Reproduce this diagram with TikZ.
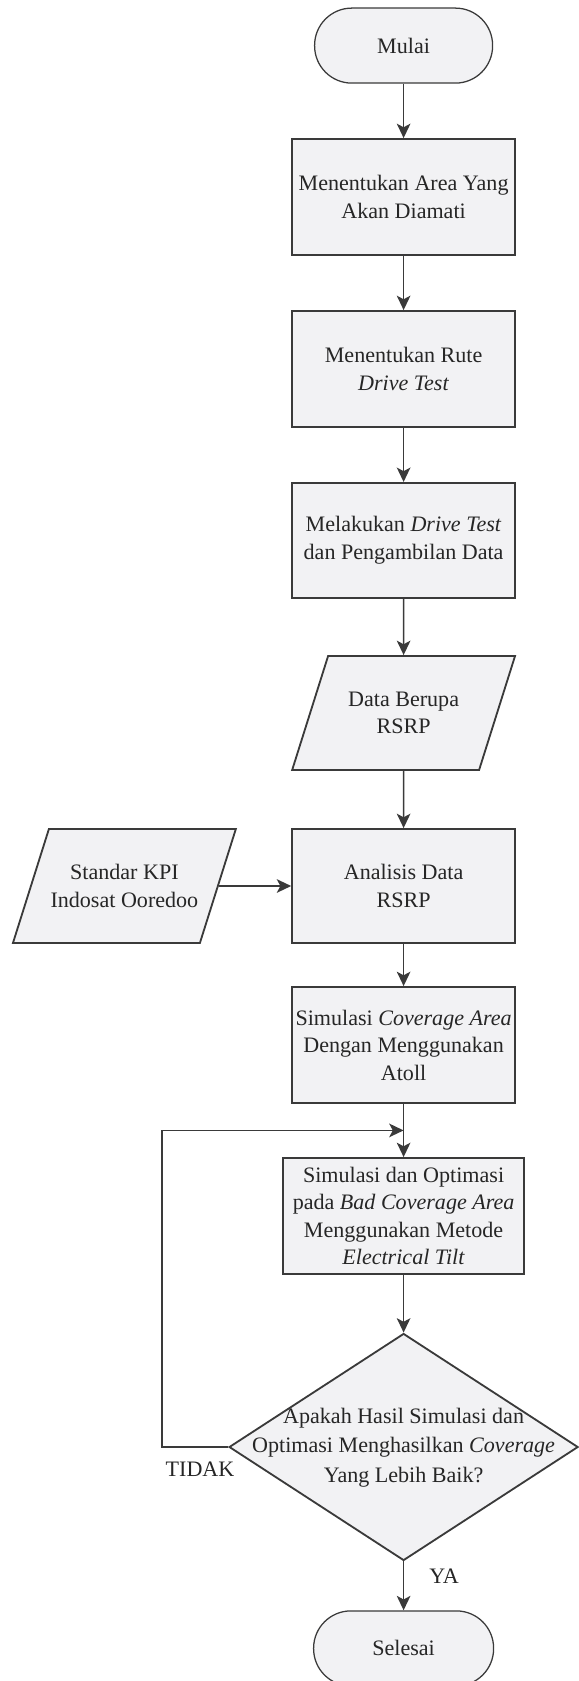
\documentclass[tikz,border=0pt]{standalone}
\usepackage{fontspec}
\setmainfont{Liberation Serif}
\usetikzlibrary{arrows.meta, positioning, shapes.geometric}
\definecolor{garis}{HTML}{3A3A3A}
\definecolor{isian}{HTML}{F2F2F4}
\definecolor{tulisan}{HTML}{262626}
% isi jajar genjang: tinggi tetap, lebar badan tetap
\newcommand{\isidata}[1]{\parbox[c][2.85cm][c]{3.775cm}{\centering #1}}

\begin{document}
\begin{tikzpicture}[
    font=\fontsize{15.7}{19.6}\selectfont, text=tulisan,
    panah/.style={draw=garis, line width=1.2pt, -{Stealth[length=3.6mm,width=3.4mm,inset=0.9mm]}},
    proses/.style={rectangle, draw=garis, fill=isian, line width=1.3pt,
      minimum width=5.575cm, minimum height=2.9cm, align=center, inner sep=1pt},
    terminal/.style={rectangle, rounded corners=0.93cm, draw=garis, fill=isian,
      line width=0.9pt, minimum width=4.45cm, minimum height=1.875cm},
    dataio/.style={trapezium, trapezium left angle=72.5, trapezium right angle=107.5,
      draw=garis, fill=isian, line width=1.3pt, inner sep=0pt},
    keputusan/.style={diamond, draw=garis, fill=isian, line width=1.3pt,
      minimum width=8.725cm, minimum height=5.675cm, inner sep=0pt}
  ]
    % ukuran gambar
    \useasboundingbox (0,0) rectangle (14.475,-42.025);

    % langkah utama
    \node[terminal] (mulai) at (10.09,-1.14) {Mulai};
    \node[proses] (area) at (10.09,-4.925) {Menentukan Area Yang\\Akan Diamati};
    \node[proses] (rute) at (10.09,-9.225) {Menentukan Rute\\\textit{Drive Test}};
    \node[proses, minimum height=2.875cm] (drivetest) at (10.09,-13.51)
      {Melakukan \textit{Drive Test}\\dan Pengambilan Data};
    \node[dataio] (rsrp) at (10.09,-17.825) {\isidata{Data Berupa\\RSRP}};
    \node[proses, minimum height=2.85cm] (analisis) at (10.09,-22.15) {Analisis Data\\RSRP};
    \node[dataio] (kpi) at (3.11,-22.15) {\isidata{Standar KPI\\Indosat Ooredoo}};
    \node[proses] (atoll) at (10.09,-26.125)
      {Simulasi \textit{Coverage Area}\\Dengan Menggunakan\\Atoll};
    \node[proses, minimum width=6.025cm] (optimasi) at (10.09,-30.4)
      {Simulasi dan Optimasi\\pada \textit{Bad Coverage Area}\\Menggunakan Metode\\\textit{Electrical Tilt}};
    \node[keputusan] (cek) at (10.09,-36.175)
      {\makebox[0pt]{\def\arraystretch{1.08}\begin{tabular}{@{}c@{}}Apakah Hasil Simulasi dan\\
        Optimasi Menghasilkan \textit{Coverage}\\Yang Lebih Baik?\end{tabular}}};
    \node[terminal, minimum width=4.5cm] (selesai) at (10.09,-41.21) {Selesai};

    % label cabang
    \node (tidak) at (5.0,-36.725) {TIDAK};
    \node (ya) at (11.1,-39.4) {YA};

    % titik bantu untuk putaran
    \coordinate (putar) at (4.05,-28.26);
    \coordinate (gabung) at (10.09,-28.26);

    % panah
    \draw[panah] (mulai) -- (area);
    \draw[panah] (area) -- (rute);
    \draw[panah] (rute) -- (drivetest);
    \draw[panah] (drivetest) -- (rsrp);
    \draw[panah] (rsrp) -- (analisis);
    \draw[panah] (kpi.east) -- (analisis.west);
    \draw[panah] (analisis) -- (atoll);
    \draw[panah] (atoll) -- (optimasi);
    \draw[panah] (optimasi) -- (cek);
    \draw[panah] (cek.west) -| (putar) -- (gabung);
    \draw[panah] (cek.south) -- (selesai.north);
\end{tikzpicture}
\end{document}
